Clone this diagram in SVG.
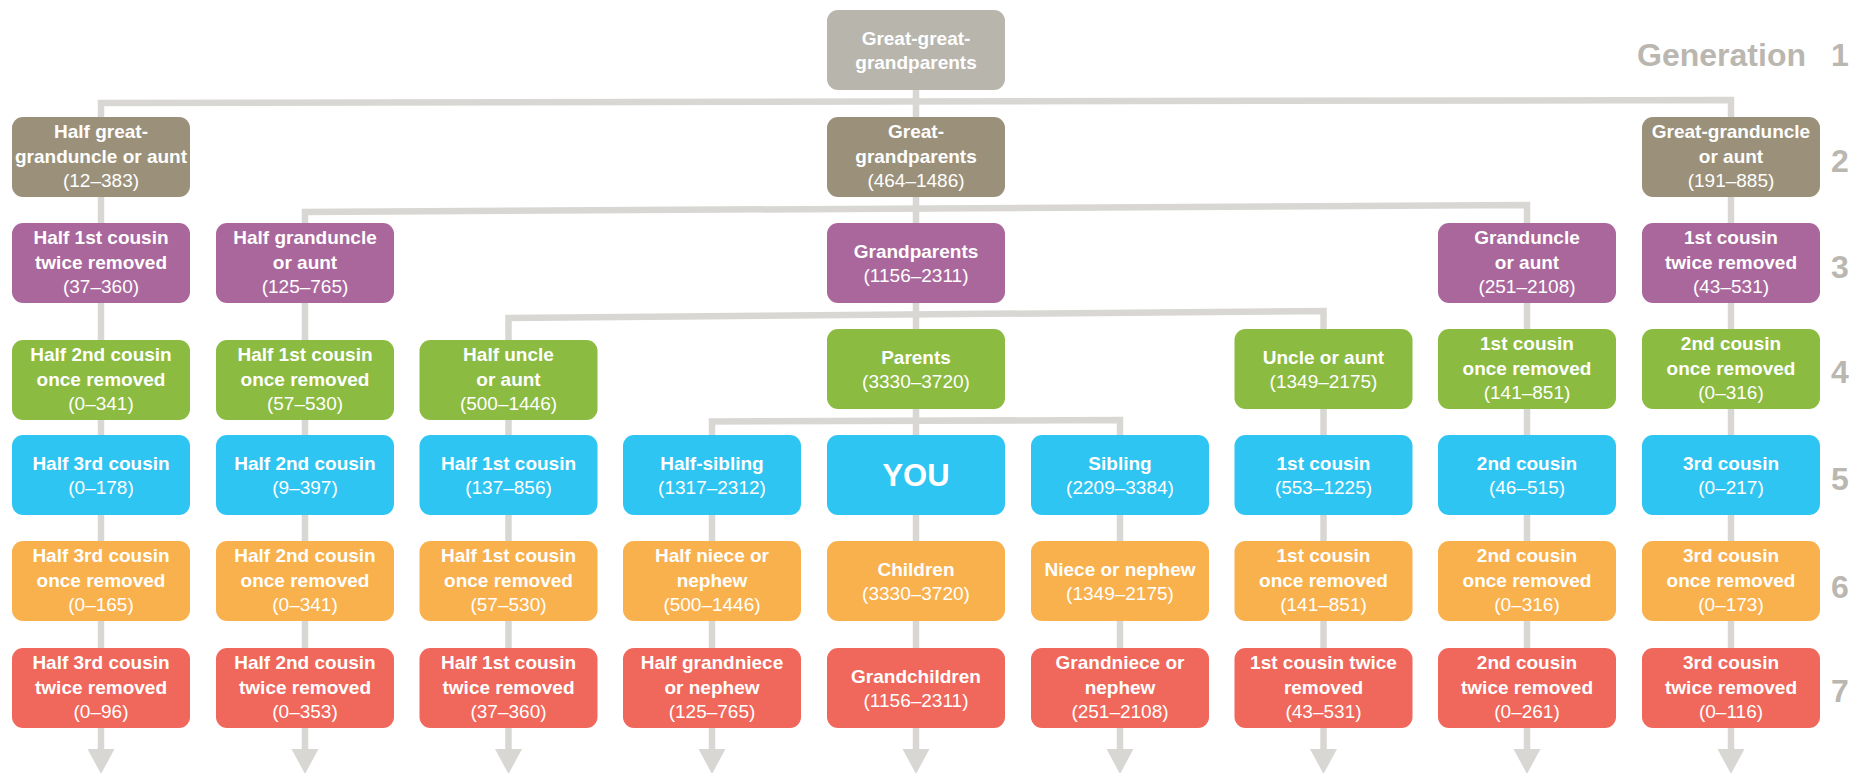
<svg xmlns="http://www.w3.org/2000/svg" xmlns:xlink="http://www.w3.org/1999/xlink" width="1859" height="773" viewBox="0 0 1859 773">
<style>
text{font-family:"Liberation Sans",Arial,sans-serif;fill:#fff;text-anchor:middle;font-size:19px}
.b{font-weight:bold}
.r{font-weight:normal}
.you{font-weight:bold;font-size:31px}
.box{stroke:none}
.g1{fill:#b8b5ad}.g2{fill:#9b917a}.g3{fill:#aa679c}.g4{fill:#8bbb40}.g5{fill:#2ec5f3}.g6{fill:#f9b14d}.g7{fill:#f0675b}
.con{fill:none;stroke:#d9d7d3;stroke-width:6.5;stroke-linejoin:miter}
.ah{fill:#d9d7d3}
.gen{fill:#bab7b1;font-weight:bold;font-size:32px}
</style>
<defs>
<path id="ah" d="M-13.5,0 H13.5 L0,25 Z"/>
</defs>
<rect width="1859" height="773" fill="#fff"/>
<g id="connectors">
<path class="con" d="M101,750 L101,103 L1731,100 L1731,750"/>
<path class="con" d="M305,750 L305,212 L1527,205 L1527,750"/>
<path class="con" d="M508.5,750 L508.5,318 L1323.5,311 L1323.5,750"/>
<path class="con" d="M712,750 L712,421.5 L1120,420 L1120,750"/>
<path class="con" d="M916,88 L916,750"/>
<g class="ah">
<use xlink:href="#ah" x="101" y="749"/>
<use xlink:href="#ah" x="305" y="749"/>
<use xlink:href="#ah" x="508.5" y="749"/>
<use xlink:href="#ah" x="712" y="749"/>
<use xlink:href="#ah" x="916" y="749"/>
<use xlink:href="#ah" x="1120" y="749"/>
<use xlink:href="#ah" x="1323.5" y="749"/>
<use xlink:href="#ah" x="1527" y="749"/>
<use xlink:href="#ah" x="1731" y="749"/>
</g>
</g>
<g id="generation-labels">
<text class="gen" x="1806" y="66" style="text-anchor:end">Generation</text>
<text class="gen" x="1840" y="66">1</text>
<text class="gen" x="1840" y="172">2</text>
<text class="gen" x="1840" y="278">3</text>
<text class="gen" x="1840" y="383">4</text>
<text class="gen" x="1840" y="490">5</text>
<text class="gen" x="1840" y="598">6</text>
<text class="gen" x="1840" y="702">7</text>
</g>

<g id="great-great-grandparents"><rect class="box g1" x="827" y="10" width="178" height="80" rx="11"/>
<text><tspan class="b" x="916" y="44.5">Great-great-</tspan><tspan class="b" x="916" y="69">grandparents</tspan></text></g>

<g id="half-great-granduncle"><rect class="box g2" x="12" y="117" width="178" height="80" rx="11"/>
<text><tspan class="b" x="101" y="138">Half great-</tspan><tspan class="b" x="101" y="162.5">granduncle or aunt</tspan><tspan class="r" x="101" y="187">(12–383)</tspan></text></g>
<g id="great-grandparents"><rect class="box g2" x="827" y="117" width="178" height="80" rx="11"/>
<text><tspan class="b" x="916" y="138">Great-</tspan><tspan class="b" x="916" y="162.5">grandparents</tspan><tspan class="r" x="916" y="187">(464–1486)</tspan></text></g>
<g id="great-granduncle"><rect class="box g2" x="1642" y="117" width="178" height="80" rx="11"/>
<text><tspan class="b" x="1731" y="138">Great-granduncle</tspan><tspan class="b" x="1731" y="162.5">or aunt</tspan><tspan class="r" x="1731" y="187">(191–885)</tspan></text></g>

<g id="half-1st-cousin-twice-removed-g3"><rect class="box g3" x="12" y="223" width="178" height="80" rx="11"/>
<text><tspan class="b" x="101" y="244">Half 1st cousin</tspan><tspan class="b" x="101" y="268.5">twice removed</tspan><tspan class="r" x="101" y="293">(37–360)</tspan></text></g>
<g id="half-granduncle"><rect class="box g3" x="216" y="223" width="178" height="80" rx="11"/>
<text><tspan class="b" x="305" y="244">Half granduncle</tspan><tspan class="b" x="305" y="268.5">or aunt</tspan><tspan class="r" x="305" y="293">(125–765)</tspan></text></g>
<g id="grandparents"><rect class="box g3" x="827" y="223" width="178" height="80" rx="11"/>
<text><tspan class="b" x="916" y="257.5">Grandparents</tspan><tspan class="r" x="916" y="282">(1156–2311)</tspan></text></g>
<g id="granduncle"><rect class="box g3" x="1438" y="223" width="178" height="80" rx="11"/>
<text><tspan class="b" x="1527" y="244">Granduncle</tspan><tspan class="b" x="1527" y="268.5">or aunt</tspan><tspan class="r" x="1527" y="293">(251–2108)</tspan></text></g>
<g id="1st-cousin-twice-removed-g3"><rect class="box g3" x="1642" y="223" width="178" height="80" rx="11"/>
<text><tspan class="b" x="1731" y="244">1st cousin</tspan><tspan class="b" x="1731" y="268.5">twice removed</tspan><tspan class="r" x="1731" y="293">(43–531)</tspan></text></g>

<g id="half-2nd-cousin-once-removed-g4"><rect class="box g4" x="12" y="340" width="178" height="80" rx="11"/>
<text><tspan class="b" x="101" y="361">Half 2nd cousin</tspan><tspan class="b" x="101" y="385.5">once removed</tspan><tspan class="r" x="101" y="410">(0–341)</tspan></text></g>
<g id="half-1st-cousin-once-removed-g4"><rect class="box g4" x="216" y="340" width="178" height="80" rx="11"/>
<text><tspan class="b" x="305" y="361">Half 1st cousin</tspan><tspan class="b" x="305" y="385.5">once removed</tspan><tspan class="r" x="305" y="410">(57–530)</tspan></text></g>
<g id="half-uncle"><rect class="box g4" x="419.5" y="340" width="178" height="80" rx="11"/>
<text><tspan class="b" x="508.5" y="361">Half uncle</tspan><tspan class="b" x="508.5" y="385.5">or aunt</tspan><tspan class="r" x="508.5" y="410">(500–1446)</tspan></text></g>
<g id="parents"><rect class="box g4" x="827" y="329" width="178" height="80" rx="11"/>
<text><tspan class="b" x="916" y="363.5">Parents</tspan><tspan class="r" x="916" y="388">(3330–3720)</tspan></text></g>
<g id="uncle"><rect class="box g4" x="1234.5" y="329" width="178" height="80" rx="11"/>
<text><tspan class="b" x="1323.5" y="363.5">Uncle or aunt</tspan><tspan class="r" x="1323.5" y="388">(1349–2175)</tspan></text></g>
<g id="1st-cousin-once-removed-g4"><rect class="box g4" x="1438" y="329" width="178" height="80" rx="11"/>
<text><tspan class="b" x="1527" y="350">1st cousin</tspan><tspan class="b" x="1527" y="374.5">once removed</tspan><tspan class="r" x="1527" y="399">(141–851)</tspan></text></g>
<g id="2nd-cousin-once-removed-g4"><rect class="box g4" x="1642" y="329" width="178" height="80" rx="11"/>
<text><tspan class="b" x="1731" y="350">2nd cousin</tspan><tspan class="b" x="1731" y="374.5">once removed</tspan><tspan class="r" x="1731" y="399">(0–316)</tspan></text></g>

<g id="half-3rd-cousin"><rect class="box g5" x="12" y="435" width="178" height="80" rx="11"/>
<text><tspan class="b" x="101" y="469.5">Half 3rd cousin</tspan><tspan class="r" x="101" y="494">(0–178)</tspan></text></g>
<g id="half-2nd-cousin"><rect class="box g5" x="216" y="435" width="178" height="80" rx="11"/>
<text><tspan class="b" x="305" y="469.5">Half 2nd cousin</tspan><tspan class="r" x="305" y="494">(9–397)</tspan></text></g>
<g id="half-1st-cousin"><rect class="box g5" x="419.5" y="435" width="178" height="80" rx="11"/>
<text><tspan class="b" x="508.5" y="469.5">Half 1st cousin</tspan><tspan class="r" x="508.5" y="494">(137–856)</tspan></text></g>
<g id="half-sibling"><rect class="box g5" x="623" y="435" width="178" height="80" rx="11"/>
<text><tspan class="b" x="712" y="469.5">Half-sibling</tspan><tspan class="r" x="712" y="494">(1317–2312)</tspan></text></g>
<g id="you"><rect class="box g5" x="827" y="435" width="178" height="80" rx="11"/>
<text class="you" x="916" y="486">YOU</text></g>
<g id="sibling"><rect class="box g5" x="1031" y="435" width="178" height="80" rx="11"/>
<text><tspan class="b" x="1120" y="469.5">Sibling</tspan><tspan class="r" x="1120" y="494">(2209–3384)</tspan></text></g>
<g id="1st-cousin"><rect class="box g5" x="1234.5" y="435" width="178" height="80" rx="11"/>
<text><tspan class="b" x="1323.5" y="469.5">1st cousin</tspan><tspan class="r" x="1323.5" y="494">(553–1225)</tspan></text></g>
<g id="2nd-cousin"><rect class="box g5" x="1438" y="435" width="178" height="80" rx="11"/>
<text><tspan class="b" x="1527" y="469.5">2nd cousin</tspan><tspan class="r" x="1527" y="494">(46–515)</tspan></text></g>
<g id="3rd-cousin"><rect class="box g5" x="1642" y="435" width="178" height="80" rx="11"/>
<text><tspan class="b" x="1731" y="469.5">3rd cousin</tspan><tspan class="r" x="1731" y="494">(0–217)</tspan></text></g>

<g id="half-3rd-cousin-once-removed"><rect class="box g6" x="12" y="541" width="178" height="80" rx="11"/>
<text><tspan class="b" x="101" y="562">Half 3rd cousin</tspan><tspan class="b" x="101" y="586.5">once removed</tspan><tspan class="r" x="101" y="611">(0–165)</tspan></text></g>
<g id="half-2nd-cousin-once-removed-g6"><rect class="box g6" x="216" y="541" width="178" height="80" rx="11"/>
<text><tspan class="b" x="305" y="562">Half 2nd cousin</tspan><tspan class="b" x="305" y="586.5">once removed</tspan><tspan class="r" x="305" y="611">(0–341)</tspan></text></g>
<g id="half-1st-cousin-once-removed-g6"><rect class="box g6" x="419.5" y="541" width="178" height="80" rx="11"/>
<text><tspan class="b" x="508.5" y="562">Half 1st cousin</tspan><tspan class="b" x="508.5" y="586.5">once removed</tspan><tspan class="r" x="508.5" y="611">(57–530)</tspan></text></g>
<g id="half-niece"><rect class="box g6" x="623" y="541" width="178" height="80" rx="11"/>
<text><tspan class="b" x="712" y="562">Half niece or</tspan><tspan class="b" x="712" y="586.5">nephew</tspan><tspan class="r" x="712" y="611">(500–1446)</tspan></text></g>
<g id="children"><rect class="box g6" x="827" y="541" width="178" height="80" rx="11"/>
<text><tspan class="b" x="916" y="575.5">Children</tspan><tspan class="r" x="916" y="600">(3330–3720)</tspan></text></g>
<g id="niece"><rect class="box g6" x="1031" y="541" width="178" height="80" rx="11"/>
<text><tspan class="b" x="1120" y="575.5">Niece or nephew</tspan><tspan class="r" x="1120" y="600">(1349–2175)</tspan></text></g>
<g id="1st-cousin-once-removed-g6"><rect class="box g6" x="1234.5" y="541" width="178" height="80" rx="11"/>
<text><tspan class="b" x="1323.5" y="562">1st cousin</tspan><tspan class="b" x="1323.5" y="586.5">once removed</tspan><tspan class="r" x="1323.5" y="611">(141–851)</tspan></text></g>
<g id="2nd-cousin-once-removed-g6"><rect class="box g6" x="1438" y="541" width="178" height="80" rx="11"/>
<text><tspan class="b" x="1527" y="562">2nd cousin</tspan><tspan class="b" x="1527" y="586.5">once removed</tspan><tspan class="r" x="1527" y="611">(0–316)</tspan></text></g>
<g id="3rd-cousin-once-removed"><rect class="box g6" x="1642" y="541" width="178" height="80" rx="11"/>
<text><tspan class="b" x="1731" y="562">3rd cousin</tspan><tspan class="b" x="1731" y="586.5">once removed</tspan><tspan class="r" x="1731" y="611">(0–173)</tspan></text></g>

<g id="half-3rd-cousin-twice-removed"><rect class="box g7" x="12" y="648" width="178" height="80" rx="11"/>
<text><tspan class="b" x="101" y="669">Half 3rd cousin</tspan><tspan class="b" x="101" y="693.5">twice removed</tspan><tspan class="r" x="101" y="718">(0–96)</tspan></text></g>
<g id="half-2nd-cousin-twice-removed"><rect class="box g7" x="216" y="648" width="178" height="80" rx="11"/>
<text><tspan class="b" x="305" y="669">Half 2nd cousin</tspan><tspan class="b" x="305" y="693.5">twice removed</tspan><tspan class="r" x="305" y="718">(0–353)</tspan></text></g>
<g id="half-1st-cousin-twice-removed-g7"><rect class="box g7" x="419.5" y="648" width="178" height="80" rx="11"/>
<text><tspan class="b" x="508.5" y="669">Half 1st cousin</tspan><tspan class="b" x="508.5" y="693.5">twice removed</tspan><tspan class="r" x="508.5" y="718">(37–360)</tspan></text></g>
<g id="half-grandniece"><rect class="box g7" x="623" y="648" width="178" height="80" rx="11"/>
<text><tspan class="b" x="712" y="669">Half grandniece</tspan><tspan class="b" x="712" y="693.5">or nephew</tspan><tspan class="r" x="712" y="718">(125–765)</tspan></text></g>
<g id="grandchildren"><rect class="box g7" x="827" y="648" width="178" height="80" rx="11"/>
<text><tspan class="b" x="916" y="682.5">Grandchildren</tspan><tspan class="r" x="916" y="707">(1156–2311)</tspan></text></g>
<g id="grandniece"><rect class="box g7" x="1031" y="648" width="178" height="80" rx="11"/>
<text><tspan class="b" x="1120" y="669">Grandniece or</tspan><tspan class="b" x="1120" y="693.5">nephew</tspan><tspan class="r" x="1120" y="718">(251–2108)</tspan></text></g>
<g id="1st-cousin-twice-removed-g7"><rect class="box g7" x="1234.5" y="648" width="178" height="80" rx="11"/>
<text><tspan class="b" x="1323.5" y="669">1st cousin twice</tspan><tspan class="b" x="1323.5" y="693.5">removed</tspan><tspan class="r" x="1323.5" y="718">(43–531)</tspan></text></g>
<g id="2nd-cousin-twice-removed"><rect class="box g7" x="1438" y="648" width="178" height="80" rx="11"/>
<text><tspan class="b" x="1527" y="669">2nd cousin</tspan><tspan class="b" x="1527" y="693.5">twice removed</tspan><tspan class="r" x="1527" y="718">(0–261)</tspan></text></g>
<g id="3rd-cousin-twice-removed"><rect class="box g7" x="1642" y="648" width="178" height="80" rx="11"/>
<text><tspan class="b" x="1731" y="669">3rd cousin</tspan><tspan class="b" x="1731" y="693.5">twice removed</tspan><tspan class="r" x="1731" y="718">(0–116)</tspan></text></g>
</svg>
